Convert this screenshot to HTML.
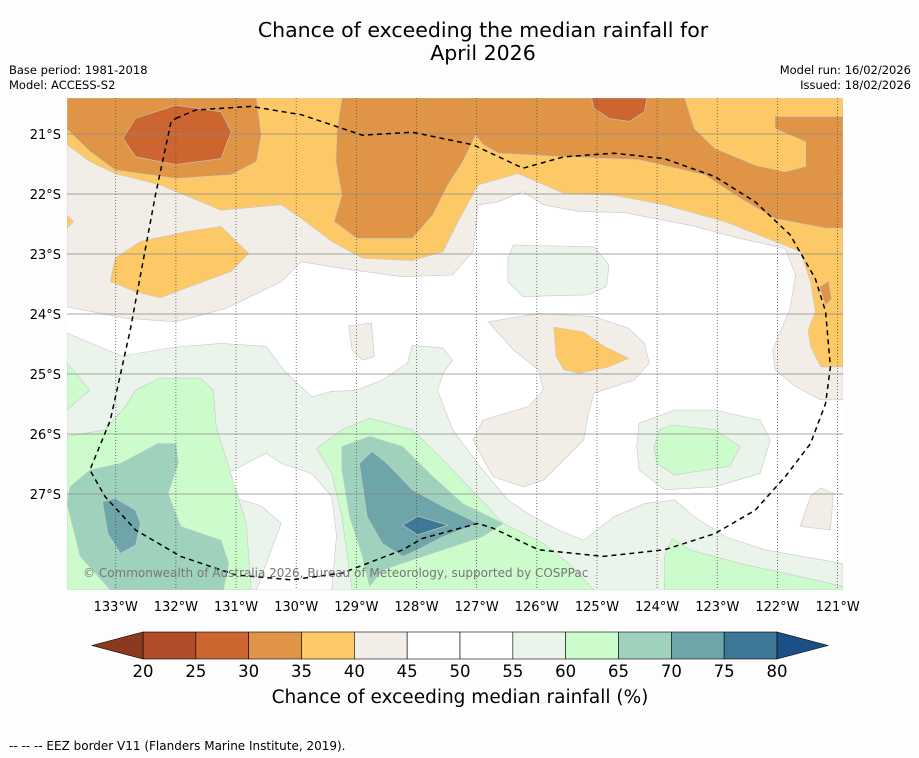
<!DOCTYPE html>
<html><head><meta charset="utf-8"><style>
body{margin:0;background:#fdfdfd;font-family:"DejaVu Sans","Liberation Sans",sans-serif;}
#c{position:relative;width:919px;height:758px;overflow:hidden;}
.t{position:absolute;white-space:nowrap;color:#000;}
</style></head><body>
<div id="c">
<div class="t" style="left:0;width:966px;top:19px;text-align:center;font-size:20.5px;line-height:23px;">Chance of exceeding the median rainfall for<br>April 2026</div>
<div class="t" style="left:9px;top:63px;font-size:11.5px;">Base period: 1981-2018</div>
<div class="t" style="left:9px;top:78px;font-size:11.5px;">Model: ACCESS-S2</div>
<div class="t" style="right:8px;top:63px;font-size:11.5px;text-align:right;">Model run: 16/02/2026</div>
<div class="t" style="right:8px;top:78px;font-size:11.5px;text-align:right;">Issued: 18/02/2026</div>
<svg id="s" width="919" height="758" style="position:absolute;left:0;top:0"></svg>
<div class="t" style="left:9px;top:739px;font-size:12px;">--  --  -- EEZ border V11 (Flanders Marine Institute, 2019).</div>
</div>
<script>
const NS="http://www.w3.org/2000/svg";
const svg=document.getElementById('s');
const FONT='DejaVu Sans, Liberation Sans, sans-serif';
// ---- axis config (data) ----
const lonTicks=[133,132,131,130,129,128,127,126,125,124,123,122,121];
const latTicks=[21,22,23,24,25,26,27];
const lonRange=[133.81,120.91];
const latRange=[20.4,28.6];
const cbLevels=[20,25,30,35,40,45,50,55,60,65,70,75,80];
const cbColors=["#b14c28","#cc6530","#e09445","#fdc966","#f2ede7","#ffffff","#ffffff","#eaf4ea","#ccfccc","#9ed2bc","#6ea5a9","#3f7897"];
// ---- contour regions [lonW, latS] ----
const beigeTop=[[133.81,20.4],[120.91,20.4],[120.91,25.43],[121.28,25.43],[121.7,25.21],[122.04,24.93],[122.08,24.6],[121.79,23.91],[121.7,23.35],[121.87,22.91],[122.62,22.74],[123.46,22.52],[124.55,22.31],[125.3,22.29],[125.89,22.18],[126.23,21.96],[126.64,22.13],[126.98,22.18],[127.06,22.96],[127.4,23.35],[128.23,23.38],[129.24,23.24],[129.91,23.13],[130.25,23.46],[131.17,23.91],[132,24.13],[132.84,24.07],[133.81,23.88]];
const beigeMid=[[126.81,24.13],[125.97,23.99],[125.05,24.04],[124.47,24.24],[124.21,24.49],[124.13,24.82],[124.38,25.1],[125.05,25.32],[125.14,25.66],[125.22,26.1],[125.89,26.77],[126.23,26.88],[126.73,26.71],[127.06,26.1],[126.9,25.77],[126.14,25.54],[125.89,25.27],[125.97,24.93],[126.39,24.6]];
const beigeSmall=[[129.13,24.2],[128.75,24.15],[128.7,24.71],[128.9,24.77],[129.07,24.6]];
const beigeSE=[[121.62,27.54],[121.45,27.04],[121.28,26.9],[121.07,26.99],[121.12,27.6]];
const yellowTop=[[133.81,20.4],[120.91,20.4],[120.91,24.88],[121.28,24.88],[121.45,24.54],[121.49,24.27],[121.37,23.96],[121.45,23.46],[121.62,22.96],[122.04,22.79],[122.87,22.46],[123.88,22.18],[124.72,22.02],[125.55,21.99],[126.31,21.66],[126.98,21.85],[127.31,22.46],[127.56,22.96],[128.07,23.11],[128.9,23.07],[129.41,22.79],[129.91,22.41],[130.25,22.18],[131.25,22.27],[132.26,21.85],[133.01,21.66],[133.43,21.46],[133.81,21.18]];
const yellowWest=[[133.09,23.46],[133.01,23.07],[132.59,22.79],[131.84,22.63],[131.25,22.54],[130.79,22.99],[131.08,23.29],[131.84,23.57],[132.26,23.73],[132.67,23.63]];
const yellowEdge=[[133.81,22.35],[133.7,22.46],[133.81,22.57]];
const yellowMid=[[125.72,24.22],[125.22,24.3],[124.88,24.54],[124.47,24.74],[124.8,24.88],[125.3,24.99],[125.55,24.93],[125.68,24.71]];
const orangeWest=[[133.81,20.4],[130.66,20.4],[130.58,21.02],[130.66,21.46],[131.08,21.68],[132,21.74],[133.01,21.6],[133.43,21.29],[133.81,20.92]];
const orangeMain=[[129.24,20.4],[123.54,20.4],[123.38,20.91],[123.04,21.24],[122.37,21.52],[121.87,21.63],[121.53,21.54],[121.53,21.13],[122.04,20.91],[122.04,20.71],[120.91,20.71],[120.91,22.57],[121.2,22.57],[122.04,22.41],[122.62,22.07],[123.21,21.68],[124.3,21.43],[125.55,21.38],[126.64,21.32],[126.89,21.18],[127.02,21.02],[127.23,21.46],[127.48,21.85],[127.73,22.35],[128.07,22.74],[128.99,22.74],[129.37,22.46],[129.24,22.02],[129.34,21.46],[129.32,20.91]];
const orangeSmall=[[121.3,23.55],[121.15,23.45],[121.1,23.75],[121.2,23.85]];
const darkWest=[[132.88,21.07],[132.67,20.74],[132,20.52],[131.25,20.63],[131.08,20.96],[131.25,21.41],[132,21.51],[132.67,21.38]];
const darkNorth=[[125.09,20.4],[124.17,20.4],[124.21,20.63],[124.46,20.79],[124.8,20.74],[125.05,20.57]];
const lgNorth=[[126.39,22.85],[125.05,22.88],[124.8,23.18],[124.84,23.54],[125.14,23.68],[126.23,23.71],[126.48,23.46],[126.48,23.07]];
const lgSouth=[[133.81,24.32],[132.9,24.7],[132,24.55],[131.25,24.49],[130.5,24.54],[130.16,24.99],[129.74,25.38],[129.41,25.29],[128.99,25.27],[128.57,25.1],[128.15,24.82],[128.07,24.52],[127.56,24.57],[127.4,24.77],[127.56,24.99],[127.65,25.27],[127.4,25.93],[126.9,26.6],[126.48,27.1],[126.06,27.38],[125.64,27.6],[125.22,27.77],[124.72,27.38],[124.21,27.16],[123.71,27.1],[123.38,27.38],[122.87,27.71],[122.21,27.93],[120.91,28.16],[120.91,28.6],[133.81,28.6]];
const whitePocket=[[131.25,26.71],[130.5,26.32],[130.25,26.49],[129.74,26.66],[129.41,27.04],[129.33,27.7],[129.41,28.6],[130.66,28.6],[130.5,28.16],[130.25,27.49],[130.58,27.2],[131.25,26.99]];
const lgEast=[[124.3,25.82],[123.71,25.6],[123.04,25.6],[122.29,25.77],[122.12,26.1],[122.29,26.66],[123.04,26.88],[123.88,26.93],[124.3,26.6],[124.34,26.21]];
const g60East=[[123.96,25.93],[123.75,25.85],[123.04,25.93],[122.62,26.21],[122.79,26.54],[123.71,26.68],[124,26.49],[124.05,26.21]];
const g60Edge=[[133.81,24.82],[133.43,25.27],[133.81,25.6]];
const g60West=[[132.67,25.27],[132.26,25.07],[131.59,25.07],[131.38,25.27],[131.33,25.88],[130.83,27.49],[130.75,28.6],[133.81,28.6],[133.81,26.04],[133.18,25.93],[132.84,25.54]];
const g60Mid=[[129.66,26.24],[129.24,25.93],[128.78,25.74],[128.07,25.93],[127.56,26.43],[126.98,27.04],[126.56,27.49],[125.89,27.82],[125.47,28.16],[125.05,28.6],[129.07,28.6],[129.24,27.38],[129.41,26.66]];
const g60SE=[[123.88,28.04],[123.75,27.74],[123.46,27.93],[122.62,28.16],[121.87,28.32],[120.91,28.54],[120.91,28.6],[123.88,28.6]];
const g65West=[[133.76,26.88],[133.43,26.6],[132.92,26.49],[132.3,26.16],[132,26.16],[131.96,26.49],[132.13,26.99],[131.92,27.54],[131.25,27.77],[131.12,28.16],[131.21,28.6],[133.09,28.6],[133.59,28.04],[133.81,27.16]];
const g65Mid=[[129.24,26.21],[128.78,26.04],[128.23,26.21],[127.73,26.71],[127.23,27.16],[126.56,27.49],[126.9,27.71],[127.56,27.93],[128.07,28.1],[128.57,28.27],[128.78,28.54],[128.9,28.04],[129.11,27.38],[129.24,26.6]];
const g70West=[[133.22,27.13],[133.01,27.07],[132.67,27.27],[132.59,27.49],[132.67,27.85],[132.92,27.99],[133.13,27.66]];
const g70Mid=[[128.95,26.49],[128.74,26.29],[128.49,26.49],[128.07,26.93],[127.56,27.21],[126.98,27.49],[127.56,27.71],[127.98,27.93],[128.23,28.04],[128.57,27.82],[128.82,27.38]];
const g75Mid=[[128.23,27.52],[127.98,27.37],[127.48,27.52],[127.98,27.68]];
const eezLine=[[132,20.74],[131.67,20.6],[130.75,20.54],[129.91,20.68],[128.9,21.02],[128.07,20.97],[127.06,21.18],[126.23,21.57],[125.55,21.38],[124.72,21.32],[123.88,21.41],[123.04,21.71],[122.37,22.13],[121.79,22.68],[121.37,23.41],[121.2,23.96],[121.12,24.88],[121.2,25.49],[121.45,26.16],[121.87,26.71],[122.37,27.27],[123.04,27.66],[123.88,27.93],[124.89,28.04],[125.97,27.93],[126.73,27.57],[126.98,27.49],[127.9,27.74],[128.23,27.93],[129.24,28.32],[130.08,28.43],[131,28.35],[131.92,28.04],[132.67,27.6],[133.18,27.04],[133.43,26.6],[133.09,25.77],[132.76,24.27],[132.34,22.02],[132.08,20.79],[132,20.74]];
// ---- axes ----
const MX0=67,MX1=843,MY0=98,MY1=590;
function xS(lon){return MX0+(lonRange[0]-lon)/(lonRange[0]-lonRange[1])*(MX1-MX0);}
function yS(lat){return MY0+(lat-latRange[0])/(latRange[1]-latRange[0])*(MY1-MY0);}
const CB0=143,CB1=777,CBY=632,CBH=27;
function cbX(v){return CB0+(v-cbLevels[0])/(cbLevels[cbLevels.length-1]-cbLevels[0])*(CB1-CB0);}
function el(t,a){const e=document.createElementNS(NS,t);for(const k in a)e.setAttribute(k,a[k]);svg.appendChild(e);return e;}
function pts(arr){return arr.map(p=>xS(p[0]).toFixed(1)+','+yS(p[1]).toFixed(1)).join(' ');}
const defs=el('defs',{});
const cp=document.createElementNS(NS,'clipPath');cp.setAttribute('id','mc');
const cr=document.createElementNS(NS,'rect');cr.setAttribute('x',MX0);cr.setAttribute('y',MY0);cr.setAttribute('width',MX1-MX0);cr.setAttribute('height',MY1-MY0);
cp.appendChild(cr);defs.appendChild(cp);
const g=el('g',{'clip-path':'url(#mc)'});
function poly(arr,fill,name){
  const p=document.createElementNS(NS,'polygon');
  p.setAttribute('points',pts(arr));p.setAttribute('fill',fill);p.setAttribute('stroke','#c8c8c8');p.setAttribute('stroke-width','0.6');
  
  
  g.appendChild(p);
}
const bg=document.createElementNS(NS,'rect');
bg.setAttribute('x',MX0);bg.setAttribute('y',MY0);bg.setAttribute('width',MX1-MX0);bg.setAttribute('height',MY1-MY0);bg.setAttribute('fill','#ffffff');


g.appendChild(bg);
poly(beigeTop,cbColors[4],'region-40-45-north');
poly(beigeMid,cbColors[4],'region-40-45-central');
poly(beigeSmall,cbColors[4],'region-40-45-small');
poly(beigeSE,cbColors[4],'region-40-45-southeast');
poly(yellowTop,cbColors[3],'region-35-40-north');
poly(yellowWest,cbColors[3],'region-35-40-west');
poly(yellowEdge,cbColors[3],'region-35-40-edge');
poly(yellowMid,cbColors[3],'region-35-40-central');
poly(orangeWest,cbColors[2],'region-30-35-west');
poly(orangeMain,cbColors[2],'region-30-35-main');
poly(orangeSmall,cbColors[2],'region-30-35-small');
poly(darkWest,cbColors[1],'region-25-30-west');
poly(darkNorth,cbColors[1],'region-25-30-north');
poly(lgNorth,cbColors[7],'region-55-60-north');
poly(lgSouth,cbColors[7],'region-55-60-south');
poly(whitePocket,'#ffffff','region-50-55-pocket');
poly(lgEast,cbColors[7],'region-55-60-east');
poly(g60East,cbColors[8],'region-60-65-east');
poly(g60Edge,cbColors[8],'region-60-65-edge');
poly(g60West,cbColors[8],'region-60-65-west');
poly(g60Mid,cbColors[8],'region-60-65-central');
poly(g60SE,cbColors[8],'region-60-65-southeast');
poly(g65West,cbColors[9],'region-65-70-west');
poly(g65Mid,cbColors[9],'region-65-70-central');
poly(g70West,cbColors[10],'region-70-75-west');
poly(g70Mid,cbColors[10],'region-70-75-central');
poly(g75Mid,cbColors[11],'region-75-80-central');
// gridlines
lonTicks.forEach(l=>{
  const ln=document.createElementNS(NS,'line');
  ln.setAttribute('x1',xS(l));ln.setAttribute('x2',xS(l));ln.setAttribute('y1',MY0);ln.setAttribute('y2',MY1);
  ln.setAttribute('stroke','#555');ln.setAttribute('stroke-width','0.8');ln.setAttribute('stroke-dasharray','1,2');
  
  
  g.appendChild(ln);
});
latTicks.forEach(l=>{
  const ln=document.createElementNS(NS,'line');
  ln.setAttribute('x1',MX0);ln.setAttribute('x2',MX1);ln.setAttribute('y1',yS(l));ln.setAttribute('y2',yS(l));
  ln.setAttribute('stroke','#8a8a8a');ln.setAttribute('stroke-width','0.7');
  
  
  g.appendChild(ln);
});
const eez=document.createElementNS(NS,'polyline');
eez.setAttribute('points',pts(eezLine));eez.setAttribute('fill','none');eez.setAttribute('stroke','#000');eez.setAttribute('stroke-width','1.5');eez.setAttribute('stroke-dasharray','5,4');


g.appendChild(eez);
const cpy=document.createElementNS(NS,'text');
cpy.setAttribute('x',83);cpy.setAttribute('y',577);cpy.setAttribute('font-size','12');cpy.setAttribute('fill','#777');
cpy.setAttribute('font-family',FONT);
cpy.textContent='© Commonwealth of Australia 2026, Bureau of Meteorology, supported by COSPPac';


g.appendChild(cpy);
// tick labels
lonTicks.forEach(l=>{
  const t=el('text',{x:xS(l),y:611,'text-anchor':'middle','font-size':'13','font-family':FONT});
  t.textContent=l+'°W';
  
  
});
latTicks.forEach(l=>{
  const t=el('text',{x:61,y:yS(l)+5,'text-anchor':'end','font-size':'13','font-family':FONT});
  t.textContent=l+'°S';
  
  
});
// colorbar
for(let i=0;i<cbColors.length;i++){
  const r=el('rect',{x:cbX(cbLevels[i]),y:CBY,width:cbX(cbLevels[i+1])-cbX(cbLevels[i]),height:CBH,fill:cbColors[i],stroke:'#000','stroke-width':'0.6'});
  
  
}
const tl=el('polygon',{points:`${CB0},${CBY} ${92},${CBY+CBH/2} ${CB0},${CBY+CBH}`,fill:'#8b3a1f',stroke:'#000','stroke-width':'0.6'});


const tr=el('polygon',{points:`${CB1},${CBY} ${828},${CBY+CBH/2} ${CB1},${CBY+CBH}`,fill:'#1c4f86',stroke:'#000','stroke-width':'0.6'});


cbLevels.forEach(v=>{
  const t=el('text',{x:cbX(v),y:677,'text-anchor':'middle','font-size':'16.5','font-family':FONT});
  t.textContent=v;
  
  
});
const ct=el('text',{x:460,y:703,'text-anchor':'middle','font-size':'18.5','font-family':FONT});
ct.textContent='Chance of exceeding median rainfall (%)';


</script>
</body></html>
